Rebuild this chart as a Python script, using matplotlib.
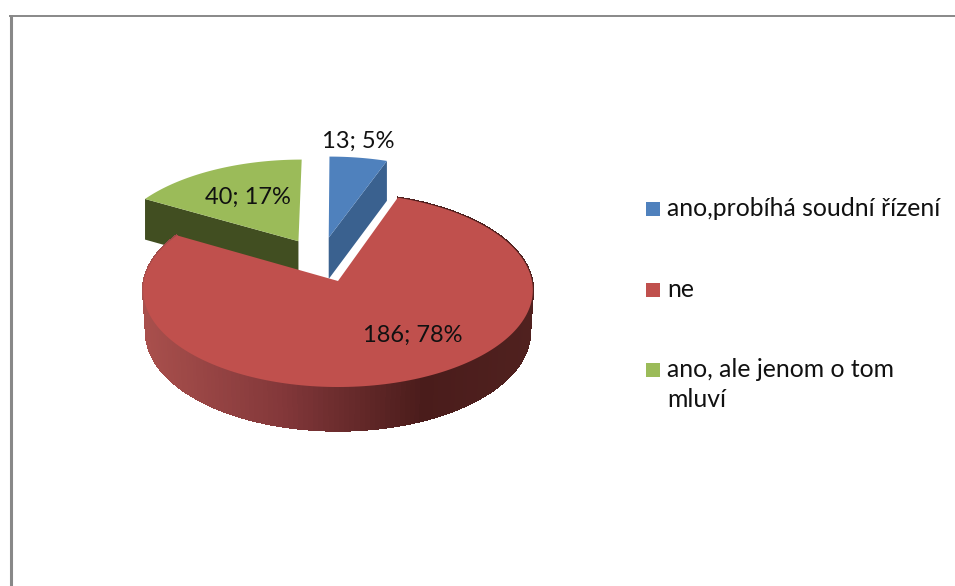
import numpy as np
import matplotlib
matplotlib.use("Agg")
import matplotlib.pyplot as plt
from matplotlib.colors import LinearSegmentedColormap

plt.rcParams['font.family'] = ['Lato', 'DejaVu Sans']

categories = ["ano,probíhá soudní řízení", "ne", "ano, ale jenom o tom\nmluví"]
values = [13, 186, 40]
percent_labels = ["5%", "78%", "17%"]
colors = ["#4f81bd", "#c0504d", "#9bbb59"]
wall_colors = ["#3a618f", "#7a3332", "#414e21"]

# pie position on the canvas, perspective of the disc
cx, r_px = 338, 194
y0, a, c = 281, -70.1, 0.0928
# explode offset of each slice, in disc units
offsets = [(-0.05, 0.47), (0, 0), (-0.212, 0.43)]
label_pos = [(358, 141), (413, 335), (248, 197)]


def project(u, v):
    # disc coordinates to canvas pixels
    u, v = np.asarray(u), np.asarray(v)
    w = 1 + c * v
    return cx + r_px * u / w, (a * v + y0) / w


def depth(v):
    return 42 - 1.5 * np.asarray(v)


fig = plt.figure(figsize=(9.55, 5.86), dpi=100)
ax = fig.add_axes([0, 0, 1, 1])
ax.set_xlim(0, 955)
ax.set_ylim(586, 0)
ax.axis("off")

# grey frame at the top and left
ax.plot([10.5, 10.5], [15, 586], color="#888888", lw=2.2, solid_capstyle="butt")
ax.plot([9, 955], [16, 16], color="#888888", lw=1.4, solid_capstyle="butt")

# slice angles, clockwise from twelve o'clock
total = sum(values)
edges = np.cumsum([0] + values) / total * 2 * np.pi
slices = []
for i in range(len(values)):
    t = np.linspace(edges[i], edges[i + 1], 200)
    du, dv = offsets[i]
    slices.append((np.sin(t) + du, np.cos(t) + dv, du, dv))

# green slice, cut wall then top
u, v, du, dv = slices[2]
wx, wy = project([u[0], du], [v[0], dv])
wd = depth([v[0], dv])
ax.fill([wx[0], wx[1], wx[1], wx[0]], [wy[0], wy[1], wy[1] + wd[1], wy[0] + wd[0]],
        color=wall_colors[2], lw=0)
px, py = project(np.r_[du, u], np.r_[dv, v])
ax.fill(px, py, color=colors[2], lw=0)

# blue slice, cut wall then top
u, v, du, dv = slices[0]
wx, wy = project([u[-1], du], [v[-1], dv])
wd = depth([v[-1], dv])
ax.fill([wx[0], wx[1], wx[1], wx[0]], [wy[0], wy[1], wy[1] + wd[1], wy[0] + wd[0]],
        color=wall_colors[0], lw=0)
px, py = project(np.r_[du, u], np.r_[dv, v])
ax.fill(px, py, color=colors[0], lw=0)

# red slice, shaded outer wall then top
shade = LinearSegmentedColormap.from_list(
    "wall", [(0, "#a84f4c"), (0.35, "#83383a"), (0.72, "#4a1c1b"), (1, "#50211f")])
u, v, du, dv = slices[1]
px, py = project(u, v)
pd = depth(v)
bx = cx + (px - cx) * 0.985
for j in range(len(px) - 1):
    col = shade((0.5 * (px[j] + px[j + 1]) - 144) / 388)
    ax.fill([px[j], px[j + 1], bx[j + 1], bx[j]],
            [py[j], py[j + 1], py[j + 1] + pd[j + 1], py[j] + pd[j]],
            facecolor=col, edgecolor=col, lw=1.0, antialiased=False)
px, py = project(np.r_[du, u], np.r_[dv, v])
ax.fill(px, py, color=colors[1], lw=0)

# data labels
for i in range(len(values)):
    ax.text(label_pos[i][0], label_pos[i][1], "%d; %s" % (values[i], percent_labels[i]),
            fontsize=17, color="#111111", ha="center", va="center")

# legend
legend_y = [209, 290, 370]
for i in range(len(categories)):
    ax.scatter([653], [legend_y[i]], marker="s", s=100, color=colors[i], lw=0)
    ax.text(667, legend_y[i] - 12, categories[i], fontsize=17.8, color="#111111",
            ha="left", va="top", linespacing=1.38)

fig.savefig("out.png", dpi=100)
